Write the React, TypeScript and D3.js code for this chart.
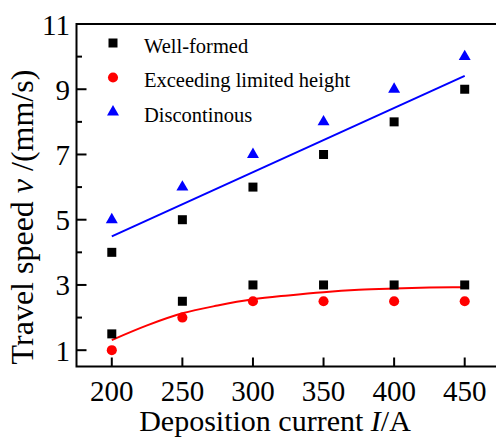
import React from 'react'
import * as d3 from 'd3'

// deposition current (A)
const currents = [200, 250, 300, 350, 400, 450]
// well-formed region: upper and lower bounds (black squares)
const wellFormedUpper = [4, 5, 6, 7, 8, 9]
const wellFormedLower = [1.5, 2.5, 3, 3, 3, 3]
const exceeding = [1, 2, 2.5, 2.5, 2.5, 2.5]
const discontinuous = [5, 6, 7, 8, 9, 10]

// fitted lines
const blueFitX = [200, 450]
const blueFitY = [4.49, 9.41]
const redFitX = [200, 225, 250, 275, 300, 325, 350, 375, 400, 425, 450]
const redFitY = [1.31, 1.76, 2.13, 2.37, 2.56, 2.68, 2.78, 2.85, 2.89, 2.92, 2.93]

const xTicks = [200, 250, 300, 350, 400, 450]
const yMajor = [1, 3, 5, 7, 9, 11]
const yMinor = [2, 4, 6, 8, 10]

const legendItems = [
  { label: 'Well-formed', shape: 'square', color: '#000' },
  { label: 'Exceeding limited height', shape: 'circle', color: '#ff0000' },
  { label: 'Discontinous', shape: 'triangle', color: '#0000ff' }
]

const W = 496
const H = 438
const left = 76.5
const right = 500
const top = 24
const bottom = 366.5
const serif = { fontFamily: "'Liberation Serif', 'Times New Roman', serif" }

const symbolPath = (shape: string) => {
  if (shape === 'square') return d3.symbol(d3.symbolSquare, 81)()
  if (shape === 'circle') return d3.symbol(d3.symbolCircle, 80)()
  return d3.symbol(d3.symbolTriangle, 62)()
}

export default function App () {
  const x = d3.scaleLinear().domain([175, 475]).range([left, right])
  const y = d3.scaleLinear().domain([0.5, 11]).range([bottom, top])

  const line = d3.line<[number, number]>()
    .x(d => x(d[0]))
    .y(d => y(d[1]))
  const curve = d3.line<[number, number]>()
    .x(d => x(d[0]))
    .y(d => y(d[1]))
    .curve(d3.curveMonotoneX)

  const blueLine = line(blueFitX.map((v, i) => [v, blueFitY[i]]))
  const redLine = curve(redFitX.map((v, i) => [v, redFitY[i]]))

  const points = (vals: number[], shape: string, color: string, key: string) =>
    currents.map((c, i) => (
      <path key={key + i} d={symbolPath(shape) || ''} fill={color}
        transform={`translate(${x(c)},${y(vals[i])})`} />
    ))

  return (
    <svg width={W} height={H} style={{ position: 'absolute', left: 0, top: 0 }}>
      <rect width={W} height={H} fill="#fff" />

      {/* fitted lines */}
      <path d={blueLine || ''} fill="none" stroke="#0000ff" strokeWidth={2} />
      <path d={redLine || ''} fill="none" stroke="#ff0000" strokeWidth={2} />

      {points(wellFormedUpper, 'square', '#000', 'wu')}
      {points(wellFormedLower, 'square', '#000', 'wl')}
      {points(exceeding, 'circle', '#ff0000', 'ex')}
      {points(discontinuous, 'triangle', '#0000ff', 'di')}

      {/* frame */}
      <path d={`M${left},${top}H${right}M${left},${top - 1}V${bottom}H${right}`}
        fill="none" stroke="#000" strokeWidth={2} />

      {/* x ticks */}
      {xTicks.map(t => (
        <g key={'xt' + t}>
          <line x1={x(t)} x2={x(t)} y1={bottom} y2={bottom - 9} stroke="#000" strokeWidth={2} />
          <text x={x(t)} y={401} fontSize={29} textAnchor="middle" style={serif}>{t}</text>
        </g>
      ))}

      {/* y ticks */}
      {yMajor.map(t => (
        <g key={'ym' + t}>
          <line x1={left} x2={left + 10} y1={y(t)} y2={y(t)} stroke="#000" strokeWidth={2} />
          <text x={70} y={y(t) + 10.5} fontSize={29} textAnchor="end" style={serif}>{t}</text>
        </g>
      ))}
      {yMinor.map(t => (
        <line key={'yn' + t} x1={left} x2={left + 5.5} y1={y(t)} y2={y(t)} stroke="#000" strokeWidth={2} />
      ))}

      {/* axis titles */}
      <text x={(137 + 413) / 2} y={431} fontSize={30} textAnchor="middle" style={serif}>
        Deposition current <tspan fontStyle="italic">I</tspan>/A
      </text>
      <text transform="translate(33,217) rotate(-90)" fontSize={32} textAnchor="middle" style={serif}>
        Travel speed <tspan fontStyle="italic">v</tspan> /(mm/s)
      </text>

      {/* legend */}
      {legendItems.map((it, i) => (
        <g key={it.label} transform={`translate(0,${43 + i * 34.5})`}>
          <path d={symbolPath(it.shape) || ''} fill={it.color} transform="translate(113,0)" />
          <text x={144} y={9.5} fontSize={20.5} style={serif}>{it.label}</text>
        </g>
      ))}
    </svg>
  )
}
